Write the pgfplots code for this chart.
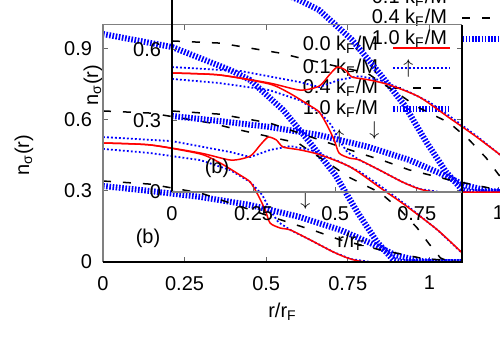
\documentclass[border=0pt]{standalone}
\usepackage{fontspec}
\setmainfont{Liberation Sans}
\usepackage{pgfplots}
\pgfplotsset{compat=1.18}
\usepackage{pgfplotstable}

\pgfplotstableread{
r n
0 0.501
0.144 0.493
0.298 0.459
0.393 0.429
0.451 0.446
0.482 0.493
0.506 0.526
0.531 0.514
0.552 0.484
0.604 0.472
0.666 0.451
0.758 0.400
0.850 0.312
0.933 0.232
1.025 0.135
1.101 0.038
}\redup
\pgfplotstableread{
r n
0 0.501
0.144 0.493
0.298 0.455
0.359 0.417
0.420 0.366
0.451 0.337
0.475 0.282
0.497 0.219
0.512 0.164
0.543 0.143
0.574 0.135
0.635 0.093
0.706 0.042
0.758 0.013
0.819 0
1.1 0
}\reddown
\pgfplotstableread{
r n
0 0.526
0.212 0.509
0.390 0.463
0.451 0.442
0.512 0.472
0.574 0.488
0.635 0.472
0.727 0.421
0.788 0.379
0.850 0.320
0.933 0.236
1.025 0.135
1.1 0.038
}\dotup
\pgfplotstableread{
r n
0 0.476
0.144 0.459
0.298 0.429
0.390 0.387
0.451 0.337
0.488 0.282
0.512 0.219
0.537 0.168
0.574 0.135
0.635 0.093
0.706 0.042
0.758 0.013
0.819 0
1.1 0
}\dotdown
\pgfplotstableread{
r n
0 0.636
0.147 0.627
0.239 0.606
0.331 0.585
0.393 0.564
0.515 0.526
0.598 0.501
0.638 0.463
0.690 0.417
0.752 0.358
0.850 0.291
0.911 0.219
0.963 0.143
0.997 0.080
1.034 0.017
1.064 0
1.1 0
}\dashup
\pgfplotstableread{
r n
0 0.341
0.144 0.328
0.298 0.291
0.390 0.248
0.482 0.206
0.574 0.164
0.650 0.131
0.727 0.093
0.850 0.051
0.972 0.017
1.095 0
1.1 0
}\dashdown
\pgfplotstableread{
r n
0 0.960
0.212 0.905
0.390 0.808
0.451 0.766
0.552 0.640
0.635 0.501
0.712 0.366
0.779 0.211
0.840 0.084
0.890 0.008
0.911 0
1.1 0
}\thickup
\pgfplotstableread{
r n
0 0.320
0.144 0.299
0.298 0.274
0.451 0.240
0.604 0.189
0.727 0.135
0.819 0.080
0.896 0.029
0.972 0.004
1.034 0
1.1 0
}\thickdown

\tikzset{
 redl/.style={red, line width=0.75pt},
 dotl/.style={blue, line width=0.9pt, dash pattern=on 0.9pt off 1.1pt},
 dashl/.style={black, line width=0.75pt, dash pattern=on 4pt off 6pt},
 thickl/.style={blue, line width=3pt, dash pattern=on 0.8pt off 0.8pt},
}

\pgfplotsset{myaxis/.style={
 scale only axis, width=179.5pt, height=118.75pt,
 xmin=0, xmax=1.1, ymin=0, ymax=1,
 xtick={0,0.25,0.5,0.75,1}, ytick={0,0.3,0.6,0.9},
 xticklabels={0,0.25,0.5,0.75,1}, yticklabels={0,0.3,0.6,0.9},
 tick align=inside, major tick length=2.5pt,
 tick style={black!60, line width=0.5pt},
 axis line style={draw=none},
 /pgf/number format/assume math mode=true,
 xticklabel style={yshift=-3.5pt},
 yticklabel style={xshift=-2pt},
 xlabel={r/r\textsubscript{F}},
 ylabel={n\textsubscript{σ}(r)},
 xlabel style={at={(axis description cs:0.5,-0.21)}, anchor=center},
 ylabel style={at={(axis description cs:-0.22,0.45)}, anchor=center},
}}

\newcommand{\content}{%
 \addplot[thickl] table {\thickup};
 \addplot[thickl] table {\thickdown};
 \addplot[dashl] table {\dashup};
 \addplot[dashl] table {\dashdown};
 \addplot[dotl] table {\dotup};
 \addplot[dotl] table {\dotdown};
 \addplot[redl, smooth, tension=0.4] table {\redup};
 \addplot[redl, smooth, tension=0.4] table {\reddown};
 \node[anchor=east, inner sep=1pt] at (axis cs:0.85,0.914) {0.0 k\textsubscript{F}/M};
 \node[anchor=east, inner sep=1pt] at (axis cs:0.85,0.817) {0.1 k\textsubscript{F}/M};
 \node[anchor=east, inner sep=1pt] at (axis cs:0.85,0.733) {0.4 k\textsubscript{F}/M};
 \node[anchor=east, inner sep=1pt] at (axis cs:0.85,0.644) {1.0 k\textsubscript{F}/M};
 \draw[redl] (axis cs:0.89,0.902) -- (axis cs:1.064,0.902);
 \draw[dotl] (axis cs:0.89,0.817) -- (axis cs:1.064,0.817);
 \draw[dashl] (axis cs:0.89,0.733) -- (axis cs:1.064,0.733);
 \draw[thickl] (axis cs:0.89,0.644) -- (axis cs:1.064,0.644);
 \node at (axis cs:0.724,0.522) {$\uparrow$};
 \node at (axis cs:0.62,0.26) {$\downarrow$};
 \node at (axis cs:0.138,0.10) {(b)};
}

\begin{document}
\begin{tikzpicture}
\useasboundingbox (0,0) rectangle (250pt,175pt);
\clip (0,0) rectangle (250pt,175pt);
\begin{axis}[myaxis, at={(51.5pt,44pt)}, anchor=south west]
\content
\end{axis}
\begin{axis}[myaxis, at={(86pt,79pt)}, anchor=south west]
\content
\end{axis}
\draw[gray, line width=0.6pt] (51.5pt,44pt) -- (51.5pt,162.75pt) -- (231pt,162.75pt);
\draw[black, line width=0.6pt] (51.5pt,44pt) -- (231pt,44pt) -- (231pt,162.75pt);
\draw[black, line width=0.6pt] (86pt,79pt) -- (86pt,175pt);
\draw[gray, line width=0.6pt] (86pt,79pt) -- (231pt,79pt);
\end{tikzpicture}
\end{document}
